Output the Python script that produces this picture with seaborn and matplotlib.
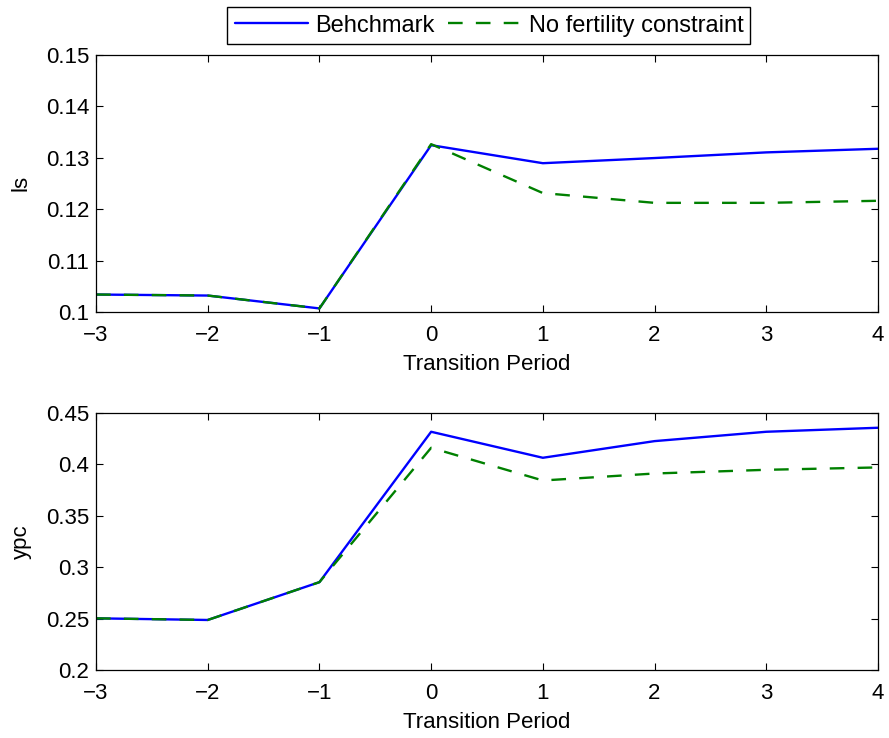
import pandas as pd
import seaborn as sns
import matplotlib.pyplot as plt

sns.set_style("ticks")
plt.rcParams["font.family"] = ["Liberation Sans", "DejaVu Sans"]
plt.rcParams.update({
    "font.size": 16,
    "text.color": "black",
    "axes.labelcolor": "black",
    "xtick.color": "black",
    "ytick.color": "black",
    "xtick.direction": "in",
    "ytick.direction": "in",
    "xtick.top": True,
    "ytick.right": True,
    "xtick.major.size": 5,
    "ytick.major.size": 5,
    "xtick.major.pad": 9,
    "ytick.major.pad": 5,
    "axes.edgecolor": "black",
    "axes.linewidth": 0.9,
})

PERIOD = [-3, -2, -1, 0, 1, 2, 3, 4]
LS_BENCH = [0.1034, 0.1032, 0.1007, 0.1324, 0.1289, 0.1299, 0.1310, 0.1317]
LS_NOFERT = [0.1034, 0.1032, 0.1007, 0.1326, 0.1231, 0.1212, 0.1212, 0.1216]
YPC_BENCH = [0.2503, 0.2487, 0.2855, 0.4318, 0.4065, 0.4227, 0.4318, 0.4357]
YPC_NOFERT = [0.2503, 0.2487, 0.2855, 0.4162, 0.3844, 0.3912, 0.3948, 0.3971]

SERIES = ["Behchmark", "No fertility constraint"]

def _long(bench, nofert):
    return pd.concat([
        pd.DataFrame({"period": PERIOD, "value": bench, "series": SERIES[0]}),
        pd.DataFrame({"period": PERIOD, "value": nofert, "series": SERIES[1]}),
    ])

df_ls = _long(LS_BENCH, LS_NOFERT)
df_ypc = _long(YPC_BENCH, YPC_NOFERT)

LW = 1.7
DASH = (6.2, 5.6)
palette = {SERIES[0]: "#0000ff", SERIES[1]: "#008000"}
dashes = {SERIES[0]: "", SERIES[1]: DASH}

fig = plt.figure(figsize=(8.89, 7.38), dpi=100)
ax1 = fig.add_axes([0.108, 0.5772, 0.8796, 0.3489])
ax2 = fig.add_axes([0.108, 0.0921, 0.8796, 0.3482])

for ax, df, ylab, ylim, yticks in [
    (ax1, df_ls, "ls", (0.1, 0.15), [0.1, 0.11, 0.12, 0.13, 0.14, 0.15]),
    (ax2, df_ypc, "ypc", (0.2, 0.45), [0.2, 0.25, 0.3, 0.35, 0.4, 0.45]),
]:
    sns.lineplot(data=df, x="period", y="value", hue="series", style="series",
                 palette=palette, dashes=dashes, linewidth=LW, ax=ax, legend=False)
    ax.set_xlim(-3, 4)
    ax.set_ylim(*ylim)
    ax.set_yticks(yticks)
    ax.set_yticklabels([f"{t:g}" for t in yticks])
    ax.set_xticks(PERIOD)
    ax.set_xticklabels([str(p).replace("-", "\u2212") for p in PERIOD])
    ax.set_xlabel("Transition Period", labelpad=6)
    ax.set_ylabel(ylab, labelpad=10)
    for s in ax.spines.values():
        s.set_visible(True)

handles = [
    plt.Line2D([], [], color="#0000ff", lw=LW),
    plt.Line2D([], [], color="#008000", lw=LW, dashes=DASH),
]
fig.legend(handles, SERIES, loc="center", bbox_to_anchor=(0.550, 0.9654), ncol=2,
           frameon=True, fancybox=False, edgecolor="black", framealpha=1,
           handlelength=3.1, columnspacing=0.6, handletextpad=0.3,
           borderpad=0.3, borderaxespad=0, fontsize=17)

fig.savefig("out.png", dpi=100)
plt.close(fig)
